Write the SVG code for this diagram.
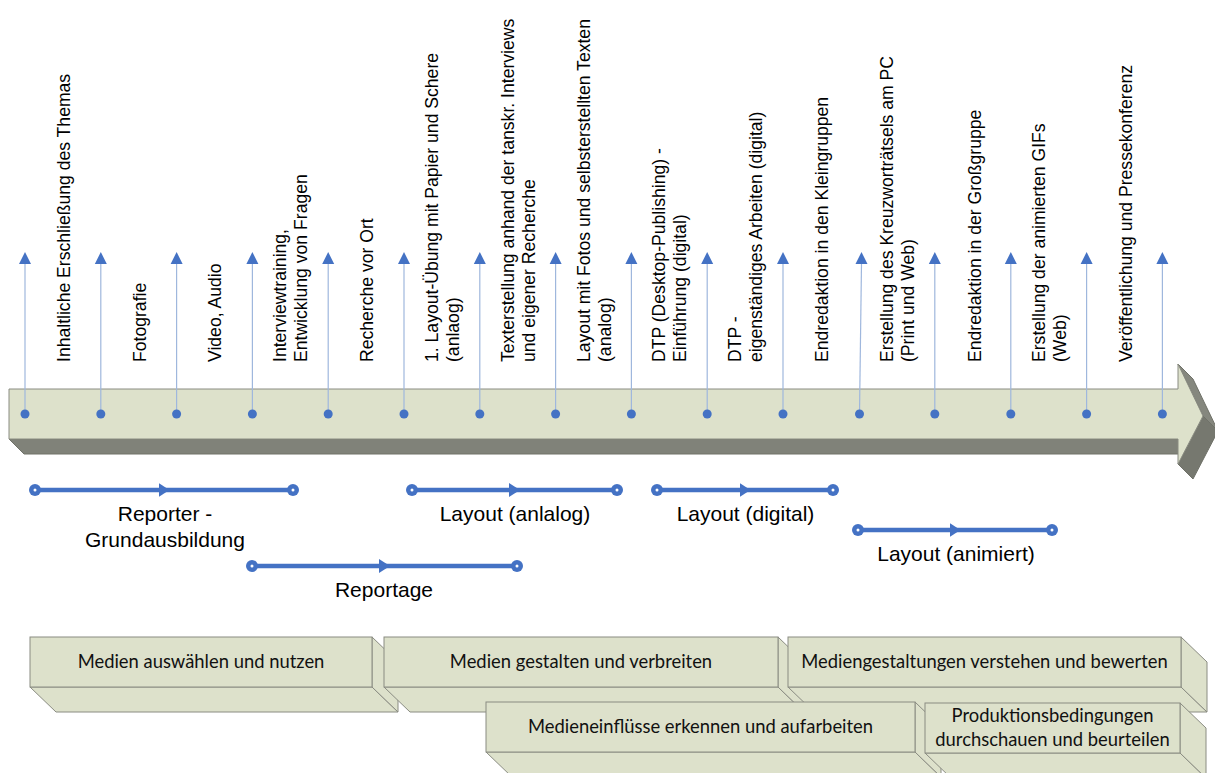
<svg xmlns="http://www.w3.org/2000/svg" width="1215" height="773" viewBox="0 0 1215 773">
<defs>
<style>
.lbl{font-family:"Liberation Sans",Arial,sans-serif;font-size:17.6px;fill:#000}
.blbl{font-family:"Liberation Sans",Arial,sans-serif;font-size:21px;fill:#000;text-anchor:middle}
.btxt{font-family:Lato,"Open Sans",sans-serif;font-size:18.4px;fill:#111;text-anchor:middle}
.face{fill:#dde1cb;stroke:#8a8c82;stroke-width:1}
.tick{stroke:#9fb7dd;stroke-width:1.2;fill:none}
.tri{fill:#4472c4}
.dot{fill:#4472c4}
.bar{stroke:#4472c4;stroke-width:4.5;fill:none}
.endc{fill:#4472c4}
.endw{fill:#fff}
</style>
<marker id="mid" viewBox="0 0 11 14" refX="5.5" refY="7" markerWidth="11" markerHeight="14" markerUnits="userSpaceOnUse" orient="auto">
<path d="M0,0 L11,7 L0,14 Z" fill="#4472c4"/>
</marker>
</defs>
<rect width="1215" height="773" fill="#fff"/>

<!-- main timeline arrow -->
<g id="timeline">
<polygon points="9,439 24,454 1193,454 1178,439" fill="#808279" stroke="#707269" stroke-width="1"/>
<polygon points="1178,364 1193,379 1218,431 1203,416" fill="#85877e" stroke="#6f7168" stroke-width="1"/>
<polygon points="1203,416 1218,431 1193,479 1178,464" fill="#76786f" stroke="#6f7168" stroke-width="1"/>
<polygon class="face" points="9,389 1178,389 1178,364 1203,416 1178,464 1178,439 9,439"/>
</g>

<!-- connectors: ticks -->
<g id="connectors">
<line class="tick" x1="25" y1="263" x2="25" y2="414"/>
<line class="tick" x1="100.8" y1="263" x2="100.8" y2="414"/>
<line class="tick" x1="176.6" y1="263" x2="176.6" y2="414"/>
<line class="tick" x1="252.4" y1="263" x2="252.4" y2="414"/>
<line class="tick" x1="328.2" y1="263" x2="328.2" y2="414"/>
<line class="tick" x1="404" y1="263" x2="404" y2="414"/>
<line class="tick" x1="479.8" y1="263" x2="479.8" y2="414"/>
<line class="tick" x1="555.6" y1="263" x2="555.6" y2="414"/>
<line class="tick" x1="631.4" y1="263" x2="631.4" y2="414"/>
<line class="tick" x1="707.2" y1="263" x2="707.2" y2="414"/>
<line class="tick" x1="783" y1="263" x2="783" y2="414"/>
<line class="tick" x1="861.5" y1="263" x2="859.5" y2="414"/>
<line class="tick" x1="934.8" y1="263" x2="934.8" y2="414"/>
<line class="tick" x1="1010.8" y1="263" x2="1010.8" y2="414"/>
<line class="tick" x1="1086.6" y1="263" x2="1086.6" y2="414"/>
<line class="tick" x1="1162.4" y1="263" x2="1162.4" y2="414"/>
<g id="arrowheads">
<polygon class="tri" points="25,252 31,264 19,264"/>
<polygon class="tri" points="100.8,252 106.8,264 94.8,264"/>
<polygon class="tri" points="176.6,252 182.6,264 170.6,264"/>
<polygon class="tri" points="252.4,252 258.4,264 246.4,264"/>
<polygon class="tri" points="328.2,252 334.2,264 322.2,264"/>
<polygon class="tri" points="404,252 410,264 398,264"/>
<polygon class="tri" points="479.8,252 485.8,264 473.8,264"/>
<polygon class="tri" points="555.6,252 561.6,264 549.6,264"/>
<polygon class="tri" points="631.4,252 637.4,264 625.4,264"/>
<polygon class="tri" points="707.2,252 713.2,264 701.2,264"/>
<polygon class="tri" points="783,252 789,264 777,264"/>
<polygon class="tri" points="861.5,252 867.5,264 855.5,264"/>
<polygon class="tri" points="934.8,252 940.8,264 928.8,264"/>
<polygon class="tri" points="1010.8,252 1016.8,264 1004.8,264"/>
<polygon class="tri" points="1086.6,252 1092.6,264 1080.6,264"/>
<polygon class="tri" points="1162.4,252 1168.4,264 1156.4,264"/>
</g>
<g id="dots">
<circle class="dot" cx="25" cy="414" r="4.5"/>
<circle class="dot" cx="100.8" cy="414" r="4.5"/>
<circle class="dot" cx="176.6" cy="414" r="4.5"/>
<circle class="dot" cx="252.4" cy="414" r="4.5"/>
<circle class="dot" cx="328.2" cy="414" r="4.5"/>
<circle class="dot" cx="404" cy="414" r="4.5"/>
<circle class="dot" cx="479.8" cy="414" r="4.5"/>
<circle class="dot" cx="555.6" cy="414" r="4.5"/>
<circle class="dot" cx="631.4" cy="414" r="4.5"/>
<circle class="dot" cx="707.2" cy="414" r="4.5"/>
<circle class="dot" cx="783" cy="414" r="4.5"/>
<circle class="dot" cx="859.5" cy="414" r="4.5"/>
<circle class="dot" cx="934.8" cy="414" r="4.5"/>
<circle class="dot" cx="1010.8" cy="414" r="4.5"/>
<circle class="dot" cx="1086.6" cy="414" r="4.5"/>
<circle class="dot" cx="1162.4" cy="414" r="4.5"/>
</g>
</g>

<!-- vertical labels -->
<g id="labels">
<g id="step1"><text class="lbl" transform="translate(70,362) rotate(-90)">Inhaltliche Erschließung des Themas</text></g>
<g id="step2"><text class="lbl" transform="translate(145.5,362) rotate(-90)">Fotografie</text></g>
<g id="step3"><text class="lbl" transform="translate(221.3,362) rotate(-90)">Video, Audio</text></g>
<g id="step4"><text class="lbl" transform="translate(286.2,362) rotate(-90)"><tspan x="0" y="0">Interviewtraining,</tspan><tspan x="0" y="21">Entwicklung von Fragen</tspan></text></g>
<g id="step5"><text class="lbl" transform="translate(372.5,362) rotate(-90)">Recherche vor Ort</text></g>
<g id="step6"><text class="lbl" transform="translate(438,362) rotate(-90)"><tspan x="0" y="0">1. Layout-Übung mit Papier und Schere</tspan><tspan x="0" y="21">(anlaog)</tspan></text></g>
<g id="step7"><text class="lbl" transform="translate(513.8,362) rotate(-90)"><tspan x="0" y="0">Texterstellung anhand der tanskr. Interviews</tspan><tspan x="0" y="21">und eigener Recherche</tspan></text></g>
<g id="step8"><text class="lbl" transform="translate(589.6,362) rotate(-90)"><tspan x="0" y="0">Layout mit Fotos und selbsterstellten Texten</tspan><tspan x="0" y="21">(analog)</tspan></text></g>
<g id="step9"><text class="lbl" transform="translate(665.4,362) rotate(-90)"><tspan x="0" y="0">DTP (Desktop-Publishing) -</tspan><tspan x="0" y="21">Einführung (digital)</tspan></text></g>
<g id="step10"><text class="lbl" transform="translate(741.2,362) rotate(-90)"><tspan x="0" y="0">DTP -</tspan><tspan x="0" y="21">eigenständiges Arbeiten (digital)</tspan></text></g>
<g id="step11"><text class="lbl" transform="translate(828,362) rotate(-90)">Endredaktion in den Kleingruppen</text></g>
<g id="step12"><text class="lbl" transform="translate(893,362) rotate(-90)"><tspan x="0" y="0">Erstellung des Kreuzworträtsels am PC</tspan><tspan x="0" y="21">(Print und Web)</tspan></text></g>
<g id="step13"><text class="lbl" transform="translate(980.5,362) rotate(-90)">Endredaktion in der Großgruppe</text></g>
<g id="step14"><text class="lbl" transform="translate(1045,362) rotate(-90)"><tspan x="0" y="0">Erstellung der animierten GIFs</tspan><tspan x="0" y="21">(Web)</tspan></text></g>
<g id="step15"><text class="lbl" transform="translate(1132,362) rotate(-90)">Veröffentlichung und Pressekonferenz</text></g>
</g>

<!-- phase bars -->
<g id="phases">
<g id="phase-reporter">
<polyline class="bar" points="35,490 164,490 293,490" marker-mid="url(#mid)"/>
<circle class="endc" cx="35" cy="490" r="6"/><circle class="endw" cx="35" cy="490" r="1.5"/>
<circle class="endc" cx="293" cy="490" r="6"/><circle class="endw" cx="293" cy="490" r="1.5"/>
<text class="blbl" x="165" y="521">Reporter -</text>
<text class="blbl" x="165" y="547">Grundausbildung</text>
</g>
<g id="phase-reportage">
<polyline class="bar" points="252,566 384.5,566 517,566" marker-mid="url(#mid)"/>
<circle class="endc" cx="252" cy="566" r="6"/><circle class="endw" cx="252" cy="566" r="1.5"/>
<circle class="endc" cx="517" cy="566" r="6"/><circle class="endw" cx="517" cy="566" r="1.5"/>
<text class="blbl" x="384" y="597">Reportage</text>
</g>
<g id="phase-layout-analog">
<polyline class="bar" points="412,490 514.5,490 617,490" marker-mid="url(#mid)"/>
<circle class="endc" cx="412" cy="490" r="6"/><circle class="endw" cx="412" cy="490" r="1.5"/>
<circle class="endc" cx="617" cy="490" r="6"/><circle class="endw" cx="617" cy="490" r="1.5"/>
<text class="blbl" x="515" y="521">Layout (anlalog)</text>
</g>
<g id="phase-layout-digital">
<polyline class="bar" points="657,490 745,490 833,490" marker-mid="url(#mid)"/>
<circle class="endc" cx="657" cy="490" r="6"/><circle class="endw" cx="657" cy="490" r="1.5"/>
<circle class="endc" cx="833" cy="490" r="6"/><circle class="endw" cx="833" cy="490" r="1.5"/>
<text class="blbl" x="745.5" y="521">Layout (digital)</text>
</g>
<g id="phase-layout-animiert">
<polyline class="bar" points="858,530 955,530 1052,530" marker-mid="url(#mid)"/>
<circle class="endc" cx="858" cy="530" r="6"/><circle class="endw" cx="858" cy="530" r="1.5"/>
<circle class="endc" cx="1052" cy="530" r="6"/><circle class="endw" cx="1052" cy="530" r="1.5"/>
<text class="blbl" x="956" y="561">Layout (animiert)</text>
</g>
</g>

<!-- competence boxes -->
<g id="box-auswaehlen">
<polygon class="face" points="30,687 372,687 398,712 56,712"/>
<polygon class="face" points="372,637 398,662 398,712 372,687"/>
<rect class="face" x="30" y="637" width="342" height="50"/>
<text class="btxt" x="201" y="668">Medien auswählen und nutzen</text>
</g>
<g id="box-gestalten">
<polygon class="face" points="384,687 778,687 804,712 410,712"/>
<polygon class="face" points="778,637 804,662 804,712 778,687"/>
<rect class="face" x="384" y="637" width="394" height="50"/>
<text class="btxt" x="581" y="668">Medien gestalten und verbreiten</text>
</g>
<g id="box-verstehen">
<polygon class="face" points="788,687 1181,687 1207,712 814,712"/>
<polygon class="face" points="1181,637 1207,662 1207,712 1181,687"/>
<rect class="face" x="788" y="637" width="393" height="50"/>
<text class="btxt" x="984.5" y="668">Mediengestaltungen verstehen und bewerten</text>
</g>
<g id="box-einfluesse">
<polygon class="face" points="486,752 915,752 941,777 512,777"/>
<polygon class="face" points="915,702 941,727 941,777 915,752"/>
<rect class="face" x="486" y="702" width="429" height="50"/>
<text class="btxt" x="700.5" y="733">Medieneinflüsse erkennen und aufarbeiten</text>
</g>
<g id="box-produktion">
<polygon class="face" points="925,753 1180,753 1206,778 951,778"/>
<polygon class="face" points="1180,703 1206,728 1206,778 1180,753"/>
<rect class="face" x="925" y="703" width="255" height="50"/>
<text class="btxt" x="1052.5" y="722">Produktionsbedingungen</text>
<text class="btxt" x="1052.5" y="746">durchschauen und beurteilen</text>
</g>
</svg>
